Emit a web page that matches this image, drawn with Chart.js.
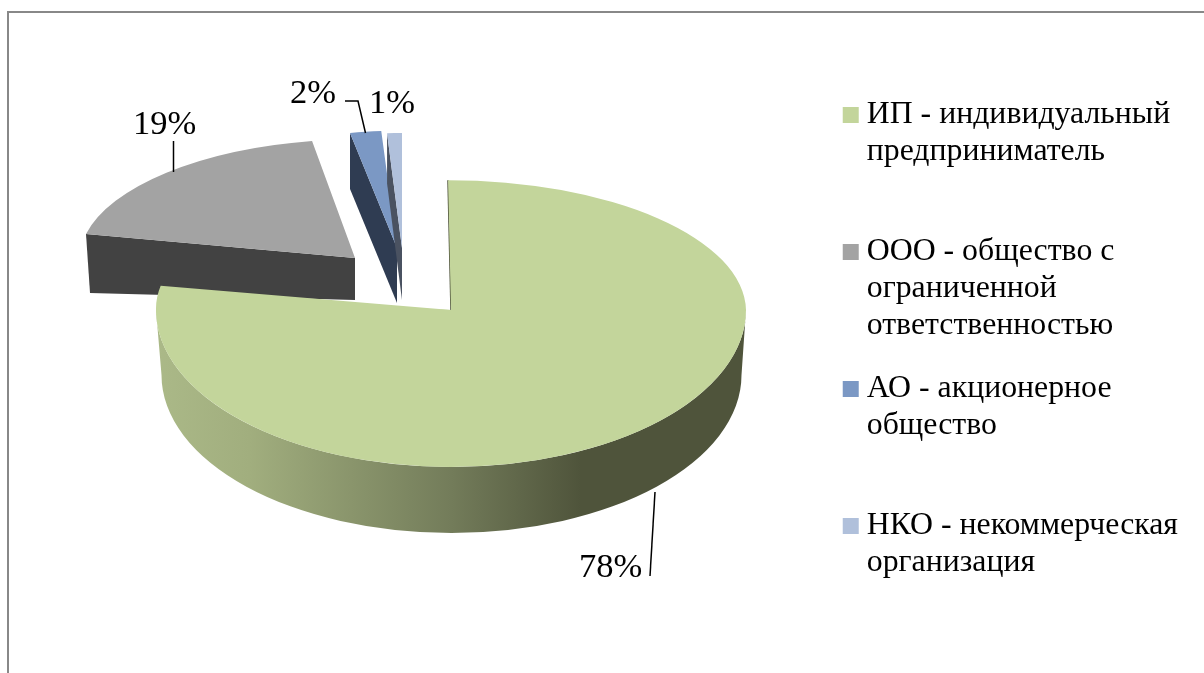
<!DOCTYPE html>
<html><head><meta charset="utf-8">
<style>html,body{margin:0;padding:0;background:#fff}canvas{display:block}</style>
<script src="https://cdn.jsdelivr.net/npm/chart.js@4/dist/chart.umd.min.js"></script>
</head><body>
<canvas id="c" width="1204" height="673"></canvas>
<script>
const categories = ['ИП - индивидуальный предприниматель','ООО - общество с ограниченной ответственностью','АО - акционерное общество','НКО - некоммерческая организация'];
const legendLines = [['ИП - индивидуальный','предприниматель',''],['ООО - общество с','ограниченной','ответственностью'],['АО - акционерное','общество',''],['НКО - некоммерческая','организация','']];
const shares = [78,19,2,1];
const colors = ['#c3d59b','#a3a3a3','#7b98c4','#b0c0db'];
const wallColors = ['#4f543b','#424242','#2f3c52','#4a5261'];

const FONT = '"Liberation Serif"';
// 3D projection of the flat pie
const apex = {x:451,y:310};
const shift = [[0,0],[-96,-52],[-54,-62],[-49,-62]];
const projection = [null,[0.934,0.006,-0.03,0.403],[0.85,0,0,0.397],[0.807,0,0,0.39]];
const depth = [null,[59,42],[56,55],[50,52]];
const mainBack = [1,0,0.01,0.44], mainFront = [1,0,0,0.532];
const labelSpots = [[579,577],[133,134],[290,103],[369,113]];
const leaders = [[[655,492],[650,576]],[[173.5,141],[173.5,172]],[[345,101],[358,101],[365.5,133]],[]];

function drawVia(ctx, el, tx, ty, m){
  ctx.save();
  ctx.translate(tx,ty);
  ctx.transform(m[0],m[1],m[2],m[3],0,0);
  ctx.translate(-el.x,-el.y);
  el.draw(ctx);
  ctx.restore();
}
const pie3d = {
  id:'pie3d',
  beforeDraw(chart){
    const ctx = chart.ctx;
    ctx.save();
    ctx.strokeStyle='#888888'; ctx.lineWidth=2;
    ctx.beginPath(); ctx.moveTo(8,673); ctx.lineTo(8,12); ctx.lineTo(1204,12); ctx.stroke();
    ctx.restore();
  },
  beforeDatasetsDraw(chart){
    const ctx = chart.ctx, els = chart.getDatasetMeta(0).data;
    // back slices
    [1,2,3].forEach(i=>{
      const el = els[i], m = projection[i];
      const tx = apex.x+shift[i][0], ty = apex.y+shift[i][1];
      const R = el.outerRadius;
      const ux = Math.cos(el.startAngle)*R, uy = Math.sin(el.startAngle)*R;
      const px = tx+m[0]*ux+m[2]*uy, py = ty+m[1]*ux+m[3]*uy;
      ctx.fillStyle = wallColors[i];
      ctx.beginPath();
      ctx.moveTo(px,py); ctx.lineTo(tx,ty); ctx.lineTo(tx,ty+depth[i][1]); ctx.lineTo(px+ (i===1?4:0),py+depth[i][0]); ctx.closePath(); ctx.fill();
      drawVia(ctx,el,tx,ty,m);
    });
    // main slice: wall, then upper face in two halves
    const el = els[0], R = el.outerRadius;
    const grad = ctx.createLinearGradient(155,0,747,0);
    grad.addColorStop(0,'#abb988'); grad.addColorStop(0.16,'#a1ae7e');
    grad.addColorStop(0.5,'#737c5a'); grad.addColorStop(0.72,'#4f543b'); grad.addColorStop(1,'#4f543b');
    ctx.fillStyle = grad;
    ctx.beginPath();
    ctx.ellipse(apex.x,apex.y,R,R*mainFront[3],0,0,Math.PI);
    ctx.ellipse(apex.x+0.5,apex.y+65,R-5,R*mainFront[3]+1,0,Math.PI,0,true);
    ctx.closePath(); ctx.fill();
    ctx.strokeStyle = wallColors[0]; ctx.lineWidth=1.5;
    ctx.beginPath(); ctx.moveTo(apex.x-3,apex.y-R*mainBack[3]); ctx.lineTo(apex.x,apex.y); ctx.stroke();
    ctx.save(); ctx.beginPath(); ctx.rect(0,0,1204,apex.y+0.5); ctx.clip();
    drawVia(ctx,el,apex.x,apex.y,mainBack); ctx.restore();
    ctx.save(); ctx.beginPath(); ctx.rect(0,apex.y-0.5,1204,400); ctx.clip();
    drawVia(ctx,el,apex.x,apex.y,mainFront); ctx.restore();
    return false;
  },
  afterDraw(chart){
    const ctx = chart.ctx;
    ctx.save();
    ctx.strokeStyle='#000'; ctx.lineWidth=1.5;
    leaders.forEach(l=>{
      if(!l.length) return;
      ctx.beginPath(); l.forEach((p,j)=> j?ctx.lineTo(p[0],p[1]):ctx.moveTo(p[0],p[1])); ctx.stroke();
    });
    ctx.fillStyle='#000'; ctx.font='34.5px '+FONT; ctx.textAlign='left'; ctx.textBaseline='alphabetic';
    shares.forEach((v,i)=> ctx.fillText(v+'%',labelSpots[i][0],labelSpots[i][1]));
    ctx.restore();
  }
};
new Chart(document.getElementById('c'),{
  type:'pie',
  data:{labels:categories,datasets:[{data:shares,backgroundColor:colors,borderWidth:0}]},
  options:{
    responsive:false,animation:false,radius:295,
    layout:{padding:{left:76,top:73,right:16,bottom:0}},
    plugins:{
      tooltip:{enabled:false},
      legend:{
        position:'right',align:'start',
        labels:{
          font:{family:FONT,size:31.8,lineHeight:37/31.8},color:'#000',padding:26,
          boxWidth:0.2,boxHeight:0.2,
          generateLabels:()=>legendLines.map((t,i)=>({text:t,fillStyle:colors[i],strokeStyle:colors[i],lineWidth:15.8,lineJoin:'miter',index:i,hidden:false}))
        }
      }
    }
  },
  plugins:[pie3d]
});
</script>
</body></html>
